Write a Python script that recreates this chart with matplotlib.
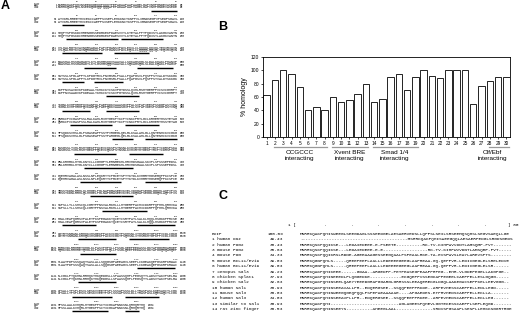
import matplotlib
matplotlib.use("Agg")
import matplotlib.pyplot as plt
from matplotlib.lines import Line2D
from matplotlib import transforms

# ---------------- data ----------------
# Panel B: % homology of the 30 zinc fingers
finger_ids = list(range(1, 31))
homology = [63, 85, 100, 94, 75, 40, 45, 40, 60, 52,
            56, 65, 80, 52, 57, 90, 95, 70, 90, 100,
            91, 89, 100, 100, 100, 50, 76, 84, 90, 90]
group_labels = ["CCGCCC\ninteracting", "Xvent BRE\ninteracting",
                "Smad 1/4\ninteracting", "Olf/Ebf\ninteracting"]
group_first = [2, 9, 14, 28]
group_last = [8, 13, 19, 30]
y_ticks = [0, 20, 40, 60, 80, 100, 120]

# Panel A: ExIP / Oaz pairwise alignment, 60 residues per block
exip_rows = [
    "MSRRKQAKPQHINSEEDQGEQQPQQQTPEFADAAPAAPAAGELGAPVNHPGNDEVASEDE",
    "ATVKRLRREETHVCEKCCAEFFSISEFLEHKKNCTKNPPVLIMNDSEGPVPSEDFSGAVL",
    "SHQPTSPGSKDCHRENGGSSEDMKEKPDAESVVYLKTETALPPTPQDISYLAKGKVANTN",
    "VTLQALRGTKVAVNQRSADALPAPVPGANSIPWVLEQILCLQQQQLQQIQLTEQIRIQVN",
    "MWASHALHSSGAGADTLKTLGSHMSQQVSAAVALLSQKAGSQGLSLDALKQAKLPHANIP",
    "SATSSLSPGLAPFTLKPDGTRVLPNVMSRLPSALLPQAPGSVLFQSPFSTVALDTSKKGK",
    "GKPPNISAVDVKPKDEAALYKHKCKYCSKVFGTDSSLQIHLRSHTGERPFVCSVCGHRFT",
    "TKGNLKVHFHRHPQVKANPQLFAEFQDKVAAASGIPFALSVPAPIEESPSSDGPASTVNQ",
    "QNRKCPVCGASFSSLRALKAHLRIHTGEKPYKCPYCNKCFRTLGCLKRHERTHSSTETAG",
    "TPSQDKSVHSLGLPSGASEAPPSSTPVRGEGLQELMLKSALAHLGLLQNTENHCKVCGKG",
    "FASGSSLTIHLRSHTGEKPFQCEVCQKSFSTNSNLKVHIRTHTGEKPYRCPYCDRSFSKA",
    "GNLKRHMKLHTGLKNYCLLCGHGFTLERNMEKHLHRVHDSGAALSKIPLSPSSSEPEDSL",
    "KQEHRVAGALASLNSSLNPLEQKRYTCPMCEYSFTTKTDLKVHMRTHGSEMQPFKCSFCE",
    "YRSSTKDNLRRHLQLHHGELPGLNAFDMASEEVKVELVDQGAPSEGGLGGQHLAQPVPIS",
    "SSPSLLTLLSHSCQLCGRTFPNSVALRKHLLLHTGERPFACHICDKRFPQPHHLQRHVKA",
    "HGALVEAPQGRSVPALETPKSPEGAKKYQCEYCSRTFATLSALKLHQQLHSGKKPFRCSE",
    "CGYRTSNMANLKRHQKIHSGEKPFACKVCGKTFSQHSNLITHSRKHTGFKPFVCDLCGKG",
    "FQRKVDLRRHRETQHGLKLPASVPHPQLLPSSGLQEEPEEDASSLGKTAPGGQRQARQEP",
    "SLAATPDPSSSQAQTSASLALLSQQGSGPAEEAGVLSEEPLCKGEAKQEPGSKRPKRWAC",
    "NLCGKLFTQKHNLRRHQKTHKQEDGSLLSPAASSQHPLPEGSQTTLADSVTAKVPSELMA",
    "LPSALLTPSPLESVLSESKVVEETPSPLSSSAFSSSLDLLTRASPASLKQESAQCTLCGK",
    "SFSSLAALKVHQRLHTGEKPFSCTICGKAFNNKSNLQRHQRTHQ",
]
oaz_rows = [
    "MSRRKQAKPQHLNSEEDQGEQQPQQQAPEFADAAPAAPVAGELGAPVNHPGNDEVASEDE",
    "ATVKRLRREETHVCEKCCAEFFSISEFLEHKKNCTKSPPVLIMNDSEGPVPSEDFSGAVL",
    "SHQPTSPGSKDCHRENGGSSEDMKEKPDAESVVYLKTETALPPTPQDISYLAKGKVANTN",
    "VTLQALRGTKVAVNQRGADALPAPVPGANSIPWVLEQILCLQQQQLQQIQLTEQIRIQVN",
    "MWASHALHSSGAGADTLKTLGSHMSQQVSAAVALLSQKAGSQGLSLDALKQAKLPHAGIP",
    "SATSSLSPGLAPFTLKPDGTRVLPNVMSRLPSALLPQAPGSVLFQSPFSTVALDTSKKGK",
    "GKPPNISAADVKPKDEAALYKHKCKYCSKVFGTDSSLQIHLRSHTGERPFVCSVCGHRFT",
    "TKGNLKVHFHRHPQVKANPQLFAEFQDKVAAASGIPFALSVPAPIDESPSSDGPASTVNQ",
    "QNRKCPVCGASFSSLRALKAHLRIHTGEKPYKCPYCNKCFRTLGCLKRHERTHSSTETAG",
    "TPSQDKSVHSLGLPSGASEAPPSSTPARGEGLQELMLKSALAHLGLLQNTENHCKVCGKG",
    "FASGSSLTIHLRSHTGEKPFQCEVCQKSFSTNSNLKVHIRTHTGEKPYRCPYCDRSFSKA",
    "GNLKRHMKLHTGLKNYCLLCGHGFTLERNMEKHLHRVHDSGAALSKIPLSPSSSEPEDSL",
    "KQEHRVAGALASLNSSLNPLEQKRYTCPMCEYSFTTKTDLKVHMRTHGSEMQPFKCSFCE",
    "YRSSTKDNLRRHLQLHHGELPGLNAFDMASEEVKVELVDQGAPSEGGLGGQHLAQPVPIS",
    "SSPSLLTLLSHSCQLCGRTFPNSVALRKHLLLHTGERPFACHICDKRFPQPHHLQRHVKA",
    "HGALVEAPQGRSVPALETPKSPEGAKKYQCEYCSRTFATLSALKLHQQLHSGKKPFRCSE",
    "CGYRTSNMANLKRHQKIHSGEKPFACKVCGKTFSQHSNLITHSRKHTGFKPFVCDLCGKG",
    "FQRKVDLRRHRETQHGLKLPASVPHPQLLPSSGLQEEPEEDASSLGKTAPGGQRQARQEP",
    "SLAATPDPSSSQAQTSASLALLSQQGSGPAEEAGVLSEEPLCKGEAKQEPGSKRPKRWAC",
    "NLCGKLFTQKHNLRRHQKTHKQEDGSLLSPAASSQHPLPEGSQTTLADSVTAKVPSELMA",
    "LPSALLTPSPLESVLSESKVVEETPSPLSSSAFSSSLDLLTRASPASLKQESAQCTLCGK",
    "SFSSLAALKVHQRLHTGEKPFSCTICGKAFNNKSNLQRHQRTHQ",
]
# underlined zinc-finger stretches: (block, first residue col, last residue col)
underlines = [
    (0, 47, 59), (1, 2, 12), (2, 4, 29), (2, 32, 52), (3, 2, 21), (3, 28, 45),
    (4, 13, 28), (4, 40, 57), (5, 2, 12), (5, 18, 32), (6, 24, 40),
    (7, 2, 15), (7, 24, 40), (8, 6, 26), (8, 34, 50), (9, 27, 37), (9, 44, 59),
    (10, 8, 28), (10, 36, 52), (11, 13, 37), (12, 11, 31), (12, 44, 59),
    (13, 16, 31), (13, 32, 37), (14, 22, 44), (15, 2, 18), (15, 40, 58),
    (16, 10, 28), (16, 36, 55), (17, 11, 28), (18, 40, 58), (19, 10, 28),
    (20, 7, 26), (20, 34, 50), (21, 7, 24), (21, 34, 40),
]

# Panel C: N-terminal alignment
c_names = ["ExIP", "1 human Oaz", "2 human FOG2", "3 mouse FOG2", "4 mouse FOG",
           "5 mouse BCL11/Evi9", "6 human BCL11/Evi9", "7 Xenopus Sal3",
           "8 chicken Splat1", "9 chicken Sal2", "10 human Sal1",
           "11 mouse Sal3", "12 human Sal3", "13 Similar to Sal1",
           "14 rat Zinc finger"]
c_identity = ["100.0%", "49.4%", "38.4%", "35.6%", "34.3%", "39.0%", "39.0%",
              "39.2%", "37.9%", "32.6%", "36.9%", "36.0%", "34.0%", "30.9%",
              "36.5%"]
c_seqs = [
    "MSRRKQAKPQHISWEEGLSEEGDAGLSSSEEDGELAESAERVEDSLLQPFSLSEILSRSEEMQSQHSLSEGVSAEQLLGE",
    "-----------------------------------------MSRRKQAKPQHISWEEGQQLAESAERPEDGLSRGDSGEDS",
    "MSRRKQSKPQQIKSE---LEDAIEDEEE-E-PSEETE----------RK-TV-KIHFWVVDNTLAMSQMP-PVT-------",
    "MSRRKQSKPQQIKSE---LEDAIEDEEE-E-E-----------------RK-TV-KIHFWVVDNTLAMSQMP-PVT-----",
    "MSRRKQSKPQQIKRSLRDNE-AGEEAAAGESSEEGQAALPSPEAALRKE-TA-EVSFWVSLEAYLAREVSPTS--------",
    "MSRRKQGNPQHLS-----QREEPEEPLAALLLEDEEEEGEEGLAAPREAA-GQ-QEPFVR-LEDIIGEGLELSRELEDVE",
    "MSRRKQGNPQHLS-----QREEPEEPLAALLLEDEEEEGEEGLAAPREAA-GQ-QEPFVR-LEDIIGEGLELSR------",
    "MSRRKQAKPQHIKEEE------GDAA--ARGEDPP-PETPEASEGPEAAFPRPEG--EHR-VLGDEFEGELLAKGPGE--",
    "MSRRKQAKPQHINEEEDLFLQGGEDKE------------EKGQEPFVSSEGKAPFEGEELCAEFFELLESLGQGG-----",
    "MSRRKQAKPQHINSEELQAEYYEEEDGRAPGGARGLGRRSSSLEEAQEREKGLDGQLAADEGACSEFFKELLEEVGGG--",
    "MSRRKQAKPQHINSEEAVALLPR--EDQERGSEE--SSQQPEEPPRKDE--ARPEVHESSCAEFFELLENLLEGD-----",
    "MSRRKQAKPQHINWEEGQGEQPQQLPSPEPAEAAAAAE----APGAEDES-ETPRVHEDSCAEFFELLEKLLA-------",
    "MSRRKQAKPQHINSEEAVPLLPR--EDQERGSEE--SSQQPEEPPRKEE--ARPEVHEDSCAEFFELLEKLLEG------",
    "MSRRKQAKPQHI--------------------------AGLAGEESPQHEVLGGTEKESSCAEFFLSEFLEQGD-------",
    "MSRRKQAKPQHINSEEYS----------AHEEGLAAL--------------SRDVSPGSAAFLSESFLLEHKKSGGRTRGE",
]

# ---------------- figure ----------------
W, H = 520, 313
fig = plt.figure(figsize=(W / 100, H / 100), dpi=100)
fig.patch.set_facecolor("white")


def fx(x):
    return x / W


def fy(y):
    return 1 - y / H


SANS = ["Liberation Sans", "DejaVu Sans"]
MONO = ["Liberation Mono", "DejaVu Sans Mono"]

# panel letters
for lab, (x, y) in zip(["A", "B", "C"], [(5, 6), (223, 27), (223, 196)]):
    fig.text(fx(x), fy(y), lab, fontsize=9, fontweight="bold", family=SANS,
             ha="center", va="center")

# ---------------- Panel A ----------------
seq_x0 = 58.0
a_fs = 2.38
cw = a_fs * 100 / 72 * 0.6
block_dy = 14.3
for k, (r1, r2) in enumerate(zip(exip_rows, oaz_rows)):
    yb = 6 + block_dy * k
    # ruler
    for j in range(1, 7):
        if 10 * j <= len(r1):
            fig.text(fx(seq_x0 + (10 * j - 0.5) * cw), fy(yb - 4.3), str(k * 60 + 10 * j),
                     fontsize=1.7, family=SANS, ha="center", va="center")
    for dy, name, row in [(-1.3, "ExIP", r1), (1.3, "Oaz", r2)]:
        fig.text(fx(34), fy(yb + dy), name, fontsize=2.2, family=SANS,
                 ha="left", va="center")
        fig.text(fx(seq_x0 - 1), fy(yb + dy), str(k * 60 + 1), fontsize=2.0,
                 family=MONO, ha="right", va="center")
        fig.text(fx(seq_x0), fy(yb + dy), row, fontsize=a_fs, family=MONO,
                 ha="left", va="center")
        fig.text(fx(seq_x0 + len(row) * cw + 3), fy(yb + dy), str(k * 60 + len(row)),
                 fontsize=2.0, family=MONO, ha="left", va="center")
for k, c0, c1 in underlines:
    yb = 6 + block_dy * k + 4.5
    fig.add_artist(Line2D([fx(seq_x0 + c0 * cw), fx(seq_x0 + (c1 + 1) * cw)],
                          [fy(yb), fy(yb)], transform=fig.transFigure,
                          color="black", lw=1.0, solid_capstyle="butt"))

# ---------------- Panel B ----------------
ax = fig.add_axes([fx(263), fy(137), (510 - 263) / W, (137 - 57) / H])
ax.bar(finger_ids, homology, width=0.78, color="white", edgecolor="black",
       linewidth=0.6)
ax.set_xlim(0.55, 30.45)
ax.set_ylim(0, 120)
ax.set_yticks(y_ticks)
ax.set_yticklabels([str(v) for v in y_ticks], fontsize=3.6, family=SANS)
ax.set_xticks(finger_ids)
ax.set_xticklabels([str(v) for v in finger_ids], fontsize=3.4, family=SANS)
ax.tick_params(axis="both", length=1.5, width=0.5, pad=1.2)
for sp in ax.spines.values():
    sp.set_linewidth(0.6)
ax.set_ylabel("% homology", fontsize=5, family=SANS, labelpad=2)

trans = transforms.blended_transform_factory(ax.transData, fig.transFigure)
label_shift = [0.0, 0.0, 0.0, -0.7]
for lab, g0, g1, sh in zip(group_labels, group_first, group_last, label_shift):
    fig.add_artist(Line2D([g0 - 0.1, g1 + 0.3], [fy(147), fy(147)], transform=trans,
                          color="#999999", lw=0.9))
    fig.text((g0 + g1) / 2 + sh, fy(150), lab, transform=trans, fontsize=4.6,
             family=SANS, ha="center", va="top", linespacing=1.15)

# ---------------- Panel C ----------------
c_fs = 3.2
ccw = c_fs * 100 / 72 * 0.6
c_x0 = 300.0
fig.text(fx(288), fy(225), "1 [", fontsize=c_fs, family=MONO, ha="left", va="center")
fig.text(fx(508), fy(225), "] 80", fontsize=c_fs, family=MONO, ha="left", va="center")
for j in range(1, 8):
    fig.text(fx(c_x0 + (10 * j - 0.5) * ccw), fy(225), ".", fontsize=c_fs,
             family=MONO, ha="center", va="center")
for i, (nm, pid, sq) in enumerate(zip(c_names, c_identity, c_seqs)):
    y = 234 + 5.36 * i
    fig.text(fx(212), fy(y), nm, fontsize=c_fs, family=MONO, ha="left", va="center")
    fig.text(fx(283), fy(y), pid, fontsize=c_fs, family=MONO, ha="right", va="center")
    fig.text(fx(c_x0), fy(y), sq, fontsize=c_fs, family=MONO, ha="left", va="center")

fig.savefig("out.png", dpi=100, facecolor="white")
